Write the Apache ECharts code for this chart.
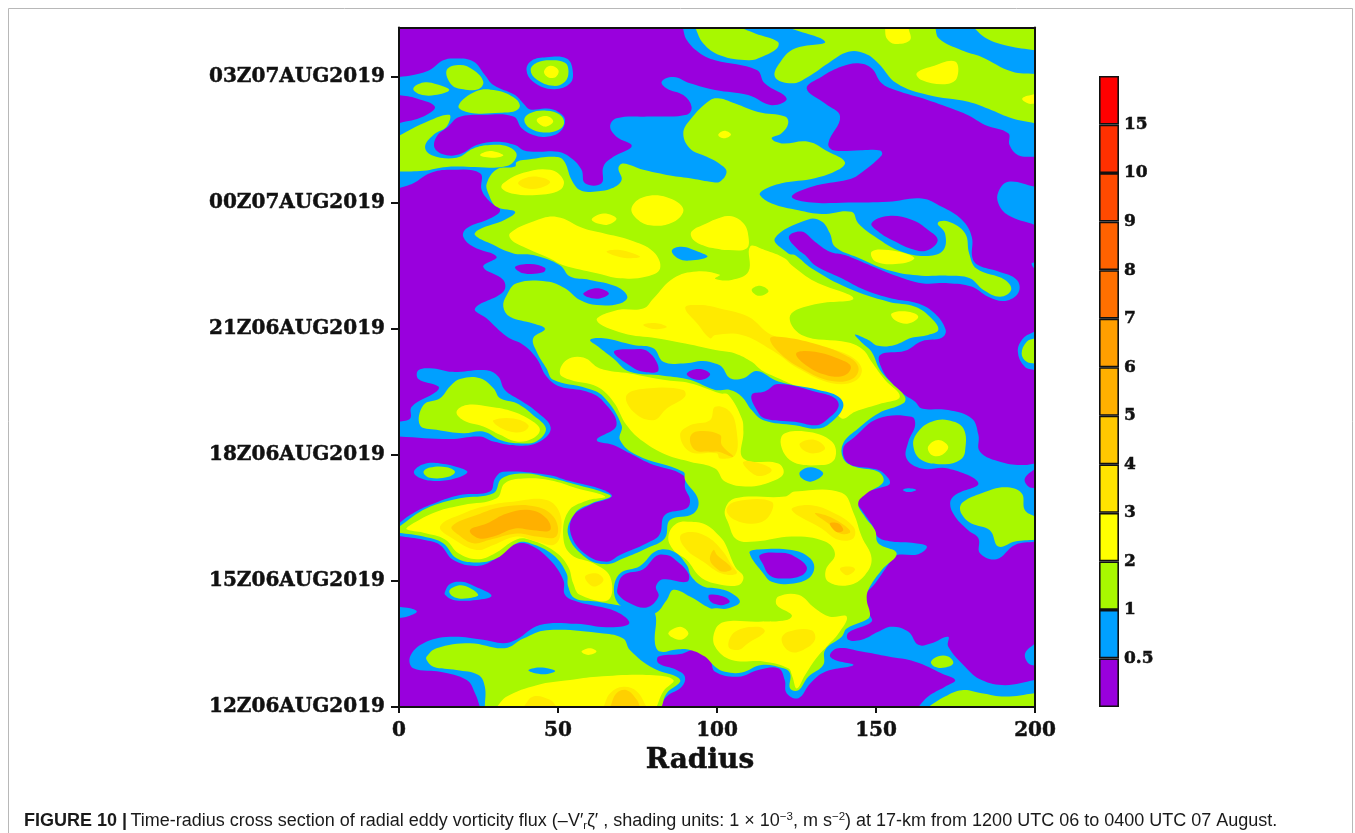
<!DOCTYPE html>
<html><head><meta charset="utf-8">
<script src="https://cdn.jsdelivr.net/npm/echarts@6/dist/echarts.min.js"></script>
<style>html,body{margin:0;padding:0;background:#fff}#c{width:1355px;height:833px}</style>
</head><body><div id="c"></div>
<script>
// Time axis: hours after 12Z 06 Aug; radius axis: km
const timeTicks=[0,3,6,9,12,15];
const timeLabels=['12Z06AUG2019','15Z06AUG2019','18Z06AUG2019','21Z06AUG2019','00Z07AUG2019','03Z07AUG2019'];
const radiusTicks=[0,50,100,150,200];
const timeMax=16.18;
// Shading key
const keyLabels=['0.5','1','2','3','4','5','6','7','8','9','10','15'];
const keyColors=['#9900dd','#00a0ff','#a8f800','#ffff00','#ffe400','#ffc800','#ffb000','#ff9f00','#ff7000','#ff6200','#ff4a00','#ff3000','#ff0000'];
const keySteps=[1,1,1,1,1,1,1,1,1,1,1,1,1];

// Contour regions, each a closed outline of [radius, hours]
const baseArea=[[[0,0],[200,0],[200,timeMax],[0,timeMax]]];
const purpleAreas=[
[[0,timeMax],[89.2,timeMax],[90.5,15.88],[94.7,15.56],[99.4,15.4],[112.5,15.17],[115,14.85],[121.9,14.49],[117.2,14.33],[109.8,14.57],[99.4,14.69],[91.5,14.85],[86.3,15],[82.6,14.89],[84.2,14.73],[89.4,14.57],[92,14.29],[90.5,14.1],[78.9,14.06],[68.4,14.02],[66.4,13.82],[68.4,13.58],[73.2,13.36],[67.4,13.1],[64.3,12.87],[63.7,12.47],[58.5,12.47],[57.4,12.79],[54.3,13.06],[50.1,13.22],[43.3,13.22],[39.1,13.26],[36.5,13.38],[30.7,13.46],[24.4,13.38],[19.7,13.18],[15,13.14],[11.3,13.3],[11.8,13.58],[15.5,13.82],[18.7,14.04],[26.5,14.1],[36,14.06],[38.6,13.78],[42.2,13.62],[46.4,13.58],[50.6,13.7],[52.2,13.98],[50.1,14.17],[46.4,14.25],[41.2,14.23],[39.1,14.37],[36.5,14.57],[29.7,14.81],[27,15.05],[23.4,15.37],[18.1,15.44],[13.9,15.4],[9.7,15.17],[4.5,15.05],[0,15]],
[[0,14.57],[5.6,14.49],[11.3,14.29],[7.7,14.06],[0,13.9]],
[[0,12.35],[4.5,12.47],[9.7,12.71],[16,12.79],[25.5,12.71],[26,12.31],[28.6,12.03],[31.8,11.83],[28.6,11.63],[21.3,11.4],[20.2,11.2],[23.4,10.96],[30.7,10.72],[26.5,10.48],[32.8,10.17],[32.8,9.89],[23.9,9.49],[27.6,9.25],[33.9,8.82],[39.1,8.62],[43.3,8.3],[46.4,7.87],[50.6,7.63],[59,7.51],[64.3,7.27],[68.4,6.71],[62.2,6.36],[67.4,6.24],[72.6,6.04],[78.9,5.8],[89.4,5.52],[90,5.2],[91.5,4.93],[90.5,4.73],[83.6,4.57],[81.9,4.1],[77.9,3.9],[69.5,3.62],[65.3,3.46],[59,3.62],[54.3,4.06],[54.6,4.53],[60,4.81],[66.9,5.01],[64.3,5.17],[52.7,5.4],[47.5,5.52],[32.8,5.6],[30.2,5.44],[28.6,5.13],[19.2,5.05],[9.7,4.81],[3.5,4.57],[0,4.37]],
[[0,4.07],[7.7,3.98],[12.9,3.86],[17.1,3.5],[24.4,3.36],[29.7,3.5],[36,3.86],[41.2,3.86],[47.5,3.5],[51.7,3.02],[52.2,2.67],[55.9,2.51],[68.4,2.27],[72.4,1.99],[65.3,1.9],[55.9,1.98],[44.3,1.95],[37,1.61],[32.8,1.52],[26.5,1.6],[16,1.67],[7.7,1.52],[3.5,1.2],[4.5,0.92],[12.9,0.84],[21.3,0.64],[23.9,0.33],[25.5,0],[0,0]],
[[82,0],[84.2,0.25],[88.9,0.48],[89.9,0.72],[87.3,0.88],[81.6,1.04],[81.6,1.2],[88.4,1.26],[93.6,1.36],[97.8,1.12],[99.4,0.84],[106.7,0.72],[113,0.88],[119.3,0.92],[121.3,0.64],[121.9,0.33],[125.6,0.21],[129.3,0.56],[134,0.84],[142.9,1],[137.1,1.12],[135.5,1.24],[138.1,1.4],[145.5,1.32],[153.9,1.2],[162.3,1.08],[170.7,0.8],[174.9,0.64],[171.7,0.48],[166.4,0.25],[163.3,0]],
[[128.2,14.73],[132.9,15.01],[139.2,15.25],[144.4,15.33],[148.6,15.21],[151.8,14.85],[156,14.69],[166.4,14.45],[172.7,14.28],[179,14.09],[184.3,13.86],[191.6,13.66],[192,13.38],[194.7,13.14],[200,13.1],[200,5.8],[196.3,5.76],[189.5,5.83],[182.7,6.08],[182.2,6.48],[180.1,6.87],[172.7,7.07],[164.4,7.11],[162.3,7.27],[159.1,7.43],[155,7.71],[151.8,8.06],[151.3,8.38],[159.1,8.48],[164.4,8.71],[170.7,8.79],[171.9,8.98],[168.5,9.37],[163.3,9.61],[154.9,9.73],[146.5,9.93],[139.2,10.21],[130.8,10.52],[127.7,10.76],[125.6,10.88],[122.6,11.2],[126.6,11.32],[130.8,11.08],[135.5,10.84],[140.2,10.76],[148.6,10.5],[157,10.25],[164.4,10.09],[172.7,10.09],[180,10.01],[185.3,9.77],[190.6,9.67],[194.8,9.87],[194.3,10.17],[188.5,10.37],[182.2,10.52],[180.3,10.7],[180.1,11.2],[177,11.6],[170.7,11.91],[164.4,12.11],[153.9,12.03],[141.3,12.01],[129.8,12.01],[123.5,12.15],[129.8,12.39],[141.3,12.56],[144.4,12.67],[151.8,13.14],[151.3,13.25],[145.5,13.26],[136.6,13.26],[135,13.42],[138.7,14.06],[134,14.37]],
[[139.7,6.16],[143,6.41],[150.7,6.87],[161.2,6.91],[162.3,6.71],[160.2,6.32],[159.6,5.92],[164.4,5.68],[172.7,5.68],[182.2,5.33],[174.9,5.05],[173.3,4.85],[174.9,4.53],[179,4.21],[182.2,4.02],[182.7,3.66],[187.9,3.52],[193.7,3.86],[200,3.94],[200,0.64],[190.6,0.52],[183.2,0.64],[178,0.96],[172.7,1.44],[172.7,1.67],[167.5,1.52],[163.3,1.48],[160.2,1.79],[154.9,1.91],[150.7,1.79],[145.5,1.6],[141.3,1.6],[141.3,1.77],[148.6,2.03],[147.8,2.23],[146.5,2.63],[149.7,2.94],[154.9,3.5],[156.5,3.62],[163.3,3.64],[166,3.82],[162.3,3.9],[154.9,3.94],[150.7,4.04],[149.1,4.29],[145.5,4.69],[144.2,4.85],[146,5.09],[150.7,5.21],[154.4,5.33],[151.8,5.6],[148.6,5.68],[141.3,5.8]],
[[196.8,5.44],[200,5.68],[200,5.21],[197.9,5.25]],
[[36.5,10.48],[41.2,10.55],[45.9,10.46],[45.4,10.35],[39.1,10.33]],
[[58,9.85],[62.2,9.97],[66,9.85],[63.2,9.73],[59,9.77]]
];
const blueIslands=[
[[40.1,15.17],[41.7,15.39],[46.4,15.47],[52.7,15.44],[54.6,15.17],[53.8,14.85],[48.5,14.71],[42.2,14.89]],
[[191.6,12.51],[200,12.39],[200,11.48],[191.6,11.71],[188.5,11.99],[188.5,12.27]],
[[6.1,8.02],[10.8,8.06],[16.6,7.98],[27.6,8.02],[31.2,7.87],[33.3,7.55],[38,7.31],[43.3,7.03],[47.7,6.65],[44.3,6.32],[38,6.22],[29.7,6.32],[25.5,6.44],[16,6.38],[0,6.44],[0,6.79],[3.5,6.87],[4,7.15],[11.8,7.51],[12.4,7.63],[6.1,7.81]],
[[4.7,5.6],[7.7,5.78],[12.9,5.8],[19.7,5.68],[21.5,5.59],[18.1,5.45],[11.8,5.38],[6.6,5.45]],
[[0,2.39],[3.5,2.35],[5.6,2.27],[2.4,2.15],[0,2.12]],
[[14.5,2.75],[16,2.93],[19.7,2.98],[23.9,2.87],[29.1,2.65],[24.4,2.55],[17.1,2.55],[14.5,2.67]],
[[200,1.52],[196.9,1.28],[197.9,1.04],[200,0.98]],
[[158.5,5.17],[160.2,5.21],[162.6,5.17],[160.2,5.12]],
[[194.6,8.46],[196.3,8.78],[200,8.95],[200,8.02],[196.8,8.1]],
[[198.9,10.56],[200,10.59],[200,10.41]]
];
const greenAreas=[
[[41.4,15.17],[43.3,15.34],[47.5,15.4],[52.2,15.34],[53.3,15.13],[52.2,14.89],[48.5,14.79],[43.3,14.94]],
[[15,15.17],[19.2,15.29],[23.4,15.17],[26.5,14.89],[24.9,14.71],[20.2,14.71],[16.6,14.81]],
[[4.5,14.73],[7.7,14.87],[11.8,14.83],[15.8,14.69],[11.3,14.57],[6.6,14.59]],
[[18.7,14.31],[24.4,14.67],[30.7,14.68],[36,14.52],[38,14.33],[36.5,14.19],[31.8,14.15],[22.3,14.15]],
[[39.4,13.98],[41.2,14.14],[46.4,14.2],[50.6,14.1],[51.9,13.9],[50.1,13.74],[45.4,13.68],[41.2,13.78]],
[[0,13.6],[7.7,13.9],[15.8,14.1],[15,13.82],[10.8,13.62],[8.2,13.34],[10.3,13.14],[18.1,13.08],[23.4,13.3],[28.6,13.38],[34.4,13.34],[37,13.14],[33.9,12.88],[23.4,12.86],[15,12.86],[7.7,12.77],[0,12.75]],
[[93.1,timeMax],[95.7,15.8],[100.9,15.52],[109.9,15.4],[114,15.48],[118.8,15.68],[119.1,15.84],[112,16.04],[107.2,timeMax]],
[[122.4,timeMax],[168.6,timeMax],[169.8,15.92],[176.9,15.64],[183.2,15.48],[192.7,15.13],[200,15.07],[200,13.9],[192.7,14.02],[186.4,14.21],[179,14.41],[166.4,14.57],[156.5,14.85],[150.7,15.33],[146.5,15.56],[141.3,15.6],[135,15.33],[128.7,15.01],[123.5,14.85],[118.2,15.01],[120.3,15.4],[124.5,15.68],[134,15.84]],
[[180.6,timeMax],[200,timeMax],[200,15.64],[191.6,15.74],[184.8,15.92]],
[[30.7,12.8],[36.5,12.87],[37,12.98],[41.2,13.04],[48.5,13.1],[51.7,13.02],[54.3,12.55],[56.9,12.31],[61.1,12.27],[66.9,12.35],[70,12.55],[69,12.83],[70.5,12.94],[76.8,12.79],[84.2,12.67],[91.5,12.59],[97.8,12.51],[100.9,12.51],[103,12.75],[100.9,12.93],[96.8,13.1],[91.5,13.3],[89.4,13.66],[91.5,13.98],[97.8,14.45],[100.9,14.49],[105.7,14.37],[112.9,14.17],[121.4,14.06],[122.4,13.9],[120.3,13.66],[117.2,13.54],[120.3,13.42],[128.7,13.46],[135,13.22],[140.2,12.98],[138.1,12.79],[130.8,12.59],[120.3,12.47],[114.6,12.31],[113.5,12.19],[117.2,11.99],[125.6,11.83],[132.9,11.74],[142.3,11.79],[144.4,11.52],[149.7,11.2],[158.1,10.84],[166.4,10.74],[171.2,10.88],[171.7,11.28],[169.4,11.52],[172.7,11.56],[178,11.28],[179.3,10.8],[181.6,10.44],[190.6,10.17],[192.5,9.93],[189,9.77],[183.8,9.93],[179.5,10.21],[172.7,10.27],[164.3,10.27],[154.9,10.38],[144.4,10.7],[137.1,10.96],[135.5,11.28],[132.9,11.56],[128.7,11.61],[118.2,11.16],[122.4,10.8],[124.5,10.76],[129.8,10.44],[141.3,9.97],[153.9,9.65],[162.3,9.53],[167.5,9.25],[169.6,8.98],[166.4,8.86],[161.2,8.79],[155.9,8.62],[150.7,8.6],[147.6,8.74],[143.4,8.87],[145.5,8.68],[148.6,8.46],[151.3,8.02],[155,7.71],[159.1,7.39],[158.6,7.23],[150.7,6.99],[144.4,6.63],[139.7,6.28],[139.7,5.92],[143.4,5.72],[150.7,5.6],[152.3,5.36],[147.1,5.09],[144.4,4.85],[146.5,4.53],[149.7,4.21],[150.7,3.9],[156.5,3.66],[151.8,3.26],[147.6,2.79],[147.1,2.55],[148.1,2.23],[147.6,2.11],[140.8,1.87],[139.2,1.67],[134,1.36],[133.4,1],[128.7,0.72],[125.6,0.4],[123,0.44],[123,0.8],[120.9,0.92],[114,1],[107.8,0.82],[102.5,0.84],[99.4,0.96],[96.2,1.2],[91.5,1.36],[87.3,1.37],[82.1,1.32],[80.5,1.52],[80.5,2.23],[76.8,2.35],[68.4,2.43],[62.2,2.51],[55.3,2.59],[53.2,2.87],[52.7,3.18],[48.5,3.62],[41.2,3.9],[37,3.9],[30.7,3.54],[24.4,3.44],[18.1,3.54],[13.9,3.9],[7.7,4.06],[0,4.15],[0,4.29],[8.7,4.73],[19.2,4.97],[29.7,5.09],[32.3,5.44],[39.1,5.56],[47.5,5.46],[55.9,5.29],[64.3,5.11],[66.6,5.01],[60.6,4.85],[55.3,4.61],[53.2,4.1],[59,3.54],[65.3,3.4],[70.6,3.54],[77.9,3.78],[83.6,4.02],[85.2,4.45],[92.6,4.61],[94.1,4.93],[90,5.4],[89.4,5.6],[74.7,6],[69.5,6.36],[70,6.71],[64.3,7.39],[59,7.59],[48.5,7.79],[46.4,8.06],[43.3,8.46],[42.2,8.78],[45.9,9],[42.2,9.13],[34.9,9.29],[32.8,9.53],[33.9,9.81],[37,10.09],[46.4,10.13],[52.2,9.97],[56.9,9.69],[62.2,9.57],[69.5,9.61],[71.8,9.77],[68.4,10.01],[60,10.17],[53.8,10.25],[50.6,10.52],[42.2,10.76],[36,10.8],[28.6,11.04],[23.9,11.24],[24.9,11.36],[33.3,11.6],[36.5,11.79],[30.7,11.91],[28.1,12.23],[27.6,12.47]],
[[8.7,1.2],[11.8,1.4],[22.3,1.52],[33.3,1.4],[39.1,1.63],[46.4,1.83],[64.3,1.75],[70.5,1.63],[72.6,1.36],[80,0.92],[87.3,0.72],[88.4,0.6],[84.2,0.33],[82.6,0],[27,0],[27,0.48],[25,0.76],[18.1,0.88],[10.8,0.96],[8.7,1.12]],
[[7.7,7.19],[12.9,7.35],[16,7.63],[19.2,7.81],[25.5,7.83],[29.7,7.59],[31.8,7.35],[37,7.23],[42.2,6.95],[46.2,6.63],[43.3,6.33],[37.5,6.28],[31.8,6.36],[26.5,6.56],[20.2,6.52],[11.8,6.6],[6.6,6.71]],
[[7.7,5.59],[9.7,5.7],[15,5.71],[17.6,5.6],[15.5,5.48],[9.7,5.46]],
[[15.8,2.75],[17.6,2.87],[20.8,2.88],[24.9,2.67],[21.8,2.59],[17.6,2.61]],
[[161.7,6.24],[163.3,6.56],[167.5,6.79],[172.7,6.83],[177.5,6.63],[178,6.08],[176.4,5.88],[171.7,5.78],[164.3,5.88]],
[[176.4,4.73],[177.5,4.89],[183.2,5.09],[190.6,5.23],[195.8,5.09],[196.8,4.69],[200,4.53],[200,3.98],[193.7,3.94],[188.5,3.82],[185.8,4.21],[180,4.37],[177.5,4.53]],
[[167.3,1.08],[169.6,1.21],[172.7,1.2],[174.3,1.04],[171.7,0.94],[168.5,0.96]],
[[166.4,0],[171.7,0.25],[177,0.4],[183.2,0.33],[190.6,0.25],[200,0.33],[200,0]],
[[195.8,8.42],[197.4,8.7],[200,8.78],[200,8.18],[197.4,8.22]]
];
const yellowAreas=[
[[45.6,15.13],[47.5,15.27],[50.1,15.17],[49.4,15.01],[47,14.99]],
[[43.3,13.98],[46.4,14.07],[48.5,13.94],[45.9,13.82]],
[[25.5,13.14],[28.6,13.24],[32.8,13.14],[29.7,13.08]],
[[152.8,timeMax],[160.2,timeMax],[160.7,15.88],[156,15.79],[153.4,15.92]],
[[162.8,15.09],[167.5,15.25],[174.9,15.37],[175.4,14.97],[171.7,14.83],[164.3,14.93]],
[[196,14.49],[200,14.6],[200,14.37],[197.9,14.37]],
[[32.8,12.47],[39.1,12.72],[47.5,12.79],[51.7,12.55],[50.6,12.31],[43.3,12.19],[35.4,12.23],[32.3,12.35]],
[[73.2,11.9],[76.8,12.14],[84.2,12.14],[89.4,11.86],[86.3,11.55],[78.9,11.47],[74.2,11.67]],
[[60.6,11.6],[64.3,11.75],[68.4,11.63],[65.3,11.48]],
[[34.9,11.28],[42.2,11.56],[49.6,11.67],[58,11.4],[64.3,11.28],[72.6,11.12],[80,10.84],[82.1,10.44],[77.9,10.25],[69.5,10.21],[62.2,10.33],[51.7,10.52],[47.5,10.68],[39.1,10.96],[35.4,11.12]],
[[92,11.32],[96.8,11.52],[99.4,11.61],[104,11.69],[108.3,11.52],[109.9,11.2],[109.3,10.92],[103.6,10.88],[99.4,10.92],[96.8,10.96],[92.6,11.12]],
[[100.4,13.62],[102.3,13.72],[104.4,13.63],[102.3,13.54]],
[[148.6,10.84],[153.9,10.88],[162,10.7],[158,10.56],[150,10.6]],
[[80,9.73],[86.3,10.21],[93.6,10.37],[100.9,10.29],[99.4,10.2],[104.6,10.17],[109.9,10.37],[110.4,10.96],[115,10.88],[121.4,10.68],[123.5,10.52],[130.8,10.13],[142.9,9.73],[130.8,9.59],[123,9.32],[126.6,8.86],[141.3,8.68],[146,8.5],[148.6,8.22],[152.8,7.79],[157.5,7.39],[151.8,7.23],[143.4,7.03],[139.2,6.87],[135,7.33],[125.6,7.62],[119.3,7.83],[114,8.02],[110.9,8.22],[105.7,8.42],[100.9,8.48],[91.5,8.63],[81,8.78],[70.5,8.9],[62.2,9.21],[68.4,9.45],[76.8,9.49]],
[[50.6,7.94],[52.7,8.26],[58,8.32],[63.2,8.06],[72.6,7.94],[83.1,7.79],[91.5,7.71],[100.9,7.47],[103.6,7.43],[107.8,6.87],[108.3,6.56],[108.3,5.92],[119.3,5.8],[120.9,5.56],[117.2,5.37],[109.9,5.25],[102.5,5.37],[99.4,5.68],[91.5,5.84],[84.2,6],[76.8,6.32],[71.6,6.71],[67.4,7.27],[62.2,7.63],[53.8,7.79]],
[[120.3,6.44],[127.7,6.56],[136.1,6.32],[137.1,5.92],[132.9,5.76],[122.9,5.88]],
[[102.5,4.69],[105.7,4.97],[121.4,5.01],[124.5,5.13],[139.2,5.1],[143,4.61],[145.5,4.06],[148.6,3.54],[146.5,3.14],[141.3,2.9],[135,2.98],[134.2,3.26],[137.1,3.64],[134,3.94],[123.5,4.06],[112,3.94],[106.2,3.99],[103.6,4.37]],
[[99.4,1.83],[102.5,2.03],[113,2.03],[121.9,2.07],[123.5,2.19],[118.8,2.43],[119.3,2.63],[125.6,2.67],[130.8,2.35],[135.5,2.15],[140.8,2.15],[138.2,1.75],[134.5,1.44],[130.8,1.12],[127.7,0.76],[125.1,0.44],[123.7,0.72],[122.4,0.92],[115,1.08],[104.6,1.12],[99.4,1.44]],
[[84.7,4.06],[87.3,4.37],[92,4.41],[96.8,4.33],[100.9,4.06],[102.5,3.9],[105.7,3.34],[108.3,3.1],[106.7,2.9],[99.4,2.94],[94.7,3.1],[90.5,3.5],[86.3,3.74]],
[[3.5,4.33],[11.8,4.65],[20.2,4.81],[30.7,4.97],[33.3,5.33],[39.1,5.44],[47.5,5.4],[55.9,5.21],[64.8,5.01],[59,4.91],[53.2,4.65],[51.7,4.02],[54.3,3.62],[61.1,3.42],[66.4,3.1],[65.8,2.55],[56.9,2.67],[54.8,2.94],[53.2,3.34],[49,3.7],[41.2,3.98],[37,3.99],[29.7,3.64],[24.4,3.52],[18.7,3.66],[14.5,3.99],[7.7,4.15],[2.4,4.23]],
[[30.7,0],[33.9,0.25],[43.3,0.52],[53.8,0.64],[62.2,0.72],[78.9,0.76],[86.3,0.64],[83.1,0.37],[81,0]],
[[57.4,1.32],[60,1.4],[62.1,1.32],[59.5,1.24]],
[[84.7,1.75],[88.4,1.91],[91,1.75],[88.4,1.6]],
[[166.4,6.2],[169.6,6.36],[172.7,6.2],[170.7,6],[167.5,6]],
[[154.9,9.37],[160.2,9.41],[163.3,9.29],[160.2,9.13],[156,9.21]],
[[18.1,7.03],[21.3,7.19],[28.6,7.15],[36,7.03],[42.2,6.79],[44.3,6.6],[42.2,6.4],[37,6.32],[31.8,6.48],[26.5,6.68],[20.2,6.83]]
];
const greenPatches=[
[[110.9,9.93],[113.5,10.03],[116.2,9.9],[113.2,9.79]]
];
const goldAreas=[
[[37.5,12.49],[42.2,12.63],[47.5,12.51],[44.3,12.36],[39.6,12.36]],
[[65.3,10.84],[69.5,10.88],[75.8,10.72],[70.5,10.7]],
[[90,9.51],[94.7,9.57],[100.9,9.49],[109.9,9.29],[117.2,8.86],[130.8,8.62],[141.3,8.38],[145.5,8.06],[143.4,7.76],[136.1,7.71],[125.6,8.06],[117.2,8.5],[107.8,8.86],[99.4,8.86],[97.8,8.78],[94.1,9.1]],
[[76.8,9.1],[81,9.14],[84.2,9.05],[80,9]],
[[71.6,7.43],[78.9,7.59],[89.4,7.55],[89.9,7.39],[84.2,7.11],[80,6.83],[73.7,7.03]],
[[88.4,6.48],[91.5,6.71],[97.8,6.83],[99.4,7.15],[104.1,7.03],[106.2,6.56],[105.7,6],[100.9,5.92],[99.9,6.04],[91.5,6.08]],
[[126.1,6.28],[130.8,6.36],[134,6.16],[130.8,6.04],[127.1,6.12]],
[[108.3,5.84],[113.5,5.8],[117.2,5.64],[113.5,5.5],[109.9,5.64]],
[[103,4.69],[105.7,4.89],[117.2,4.89],[116.2,4.53],[112,4.37],[105.7,4.45]],
[[123.5,4.69],[128.7,4.81],[136,4.65],[142.9,4.29],[142.9,4.02],[138.2,3.98],[132.9,4.25]],
[[138.7,3.3],[142.3,3.34],[143.4,3.26],[140.8,3.14]],
[[103.6,1.44],[105.7,1.79],[113,1.91],[115,1.79],[109.8,1.52],[106.7,1.36]],
[[120.3,1.6],[122.4,1.79],[129.7,1.83],[130.8,1.6],[127.1,1.36],[122.9,1.32]],
[[88.4,4.06],[91.5,4.17],[96.8,4.06],[101.5,3.74],[104.6,3.38],[106.2,3.18],[101.5,3.18],[95.7,3.46],[90.5,3.74]],
[[12.9,4.3],[20.2,4.61],[28.6,4.81],[35.9,4.89],[46.4,4.93],[50.6,4.61],[50.6,4.06],[48.5,3.86],[43.3,3.94],[37,4.06],[29.7,3.86],[24.4,3.74],[17.1,4]],
[[58.5,3.1],[62.2,3.18],[64.3,3.02],[61.1,2.87]],
[[39.1,0],[42.2,0.25],[47.5,0.17],[49.6,0]],
[[64.3,0],[66.4,0.33],[70.6,0.48],[74.8,0.37],[77.9,0]],
[[29.7,6.83],[36,6.87],[40.7,6.71],[39.1,6.56],[34.9,6.56],[30.7,6.71]]
];
const amberAreas=[
[[116.7,8.78],[120.3,8.81],[130.8,8.65],[140.2,8.38],[144.4,8.11],[142.9,7.83],[136.1,7.76],[126.6,8.06],[119.3,8.46]],
[[91.5,6.4],[93.6,6.56],[100.9,6.48],[101.5,6.24],[105.1,5.96],[100.4,6.08],[97.8,6.08],[93.1,6.12]],
[[130.8,4.61],[134,4.57],[139.2,4.37],[141.9,4.17],[138.7,4.13],[135,4.37]],
[[98.9,3.74],[100,3.62],[104.6,3.3],[102,3.22],[99.9,3.3],[97.8,3.5]],
[[16.6,4.3],[24.4,4.57],[32.8,4.77],[43.3,4.77],[49,4.49],[49.4,4.06],[43.3,4.06],[37,4.13],[28.6,3.98],[23.4,3.9],[18.7,4.1]],
[[66.4,0],[68.4,0.33],[71.6,0.4],[74.8,0.17],[75.8,0]]
];
const orangeAreas=[
[[124.9,8.42],[130.8,8.46],[139.2,8.26],[142.1,8.1],[140.2,7.9],[135,7.89],[128.7,8.1]],
[[135.5,4.37],[138.2,4.37],[139.7,4.21],[137.6,4.17]],
[[22.3,4.21],[27.6,4.37],[33.9,4.61],[41.2,4.69],[46.4,4.49],[47.5,4.21],[42.2,4.21],[36.5,4.25],[29.7,4.06],[25,4.02]]
];
const blueHoles=[
[[85.8,10.87],[88.9,10.96],[94.1,10.84],[97,10.72],[91.5,10.63],[87.8,10.68]],
[[60.1,8.74],[64.3,8.78],[73.7,8.62],[80,8.54],[83.1,8.22],[89.4,8.18],[95.7,8.24],[99.4,8.18],[101.5,8.1],[104.1,7.83],[108.3,7.83],[112.5,8],[119.3,7.75],[131.9,7.55],[138.2,7.39],[139.7,7.15],[136.1,6.79],[131.9,6.63],[124.5,6.71],[114.6,6.83],[110.9,7.07],[107.8,7.39],[104.1,7.55],[99.4,7.55],[91.5,7.79],[83.1,7.89],[72.6,7.98],[67.4,8.3],[62.7,8.58]],
[[110.2,3.67],[113,3.75],[123.5,3.74],[128.7,3.58],[130.6,3.34],[128.7,3.06],[122.4,2.93],[117.2,2.98],[115,3.14]],
[[126.1,5.6],[129.7,5.71],[133.4,5.56],[129.7,5.37],[126.6,5.45]],
[[67.6,2.75],[69.5,3.18],[75.8,3.36],[81,3.72],[86.3,3.7],[90.5,3.38],[92,3.1],[95.7,2.87],[99.4,2.83],[103.6,2.75],[107.2,2.51],[103.6,2.35],[99.4,2.35],[97.8,2.35],[91.5,2.63],[86.3,2.79],[84.2,2.55],[80.5,2.23],[76.8,2.3],[70,2.4]],
[[40.7,0.87],[44.3,0.94],[49.1,0.86],[45.4,0.78]]
];
const purpleHoles=[
[[148.6,11.52],[153.9,11.69],[161.2,11.6],[166.4,11.36],[169.4,11.12],[166.4,10.88],[162.3,10.88],[155,11.12],[150.7,11.32]],
[[67.6,8.46],[72.6,8.52],[78.4,8.46],[81.6,8.02],[76.8,7.98],[71.6,8.18]],
[[90.5,7.94],[94.1,8.05],[97.8,7.94],[96.2,7.81],[92.6,7.81]],
[[110.9,7.43],[115,7.51],[119.3,7.69],[131.9,7.49],[137.1,7.35],[138.2,7.15],[135,6.87],[131.3,6.71],[124.5,6.79],[115,6.87],[112.5,7.07]],
[[113.5,3.62],[120.3,3.67],[124.5,3.58],[128.2,3.34],[126.8,3.14],[120.3,3.06],[116.5,3.14],[114.6,3.38]],
[[68.7,2.83],[70.5,3.14],[76.8,3.28],[81,3.6],[84.2,3.62],[86.3,3.54],[91,3.18],[90.5,2.98],[83.1,3.04],[80.8,2.87],[81.6,2.63],[77.9,2.37],[72.6,2.47],[69,2.67]],
[[97.6,2.67],[102,2.63],[104,2.51],[102,2.43],[99.4,2.45],[97.6,2.55]]
];

const PURPLE=keyColors[0],BLUE=keyColors[1],GREEN=keyColors[2],YELLOW=keyColors[3],GOLD='#ffea00',AMBER='#ffd000',ORANGE='#ffb000';
const layers=[
 [baseArea,BLUE],[purpleAreas,PURPLE],[blueIslands,BLUE],[greenAreas,GREEN],[yellowAreas,YELLOW],[greenPatches,GREEN],
 [goldAreas,GOLD],[amberAreas,AMBER],[orangeAreas,ORANGE],[blueHoles,BLUE],[purpleHoles,PURPLE]
];
const FONT='"DejaVu Serif"';
const HEAVY={fontFamily:FONT,fontWeight:'bold',color:'#111',textBorderColor:'#111',textBorderWidth:0.5};
function contourSeries(areas,color,i){
  return {type:'custom',coordinateSystem:'cartesian2d',xAxisIndex:0,yAxisIndex:0,silent:true,clip:true,z:2+i*0.01,
    data:areas.map((a,k)=>[k]),
    renderItem(params,api){
      const outline=areas[params.dataIndex],pts=[];
      outline.forEach(p=>{
        const q=api.coord(p);pts.push(q);
        if(p[0]<=0||p[0]>=200||p[1]<=0||p[1]>=timeMax)pts.push(q);
      });
      return {type:'polygon',shape:{points:pts,smooth:0.4},style:{fill:color}};
    }};
}
const series=layers.map((l,i)=>contourSeries(l[0],l[1],i));
keySteps.forEach((v,i)=>series.push({type:'bar',xAxisIndex:2,yAxisIndex:2,stack:'key',barWidth:'100%',silent:true,data:[v],
  itemStyle:{color:keyColors[i],borderColor:'#111',borderWidth:1.6}}));

const chart=echarts.init(document.getElementById('c'),null,{renderer:'canvas'});
chart.setOption({
  animation:false,backgroundColor:'#fff',
  grid:[{left:399,top:27.5,width:636,height:679.5},{left:1099,top:76,width:20,height:631}],
  xAxis:[
   {type:'value',gridIndex:0,min:0,max:200,interval:50,z:10,name:'Radius',nameLocation:'middle',nameGap:40,
    nameTextStyle:{...HEAVY,fontSize:28,padding:[0,34,0,0]},
    axisLine:{lineStyle:{color:'#111',width:2}},axisTick:{length:6,lineStyle:{color:'#111',width:2}},splitLine:{show:false},
    axisLabel:{...HEAVY,margin:14,fontSize:20,customValues:radiusTicks}},
   {type:'value',gridIndex:0,position:'top',min:0,max:200,z:10,axisLine:{onZero:false,lineStyle:{color:'#111',width:2}},axisTick:{show:false},axisLabel:{show:false},splitLine:{show:false}},
   {type:'category',gridIndex:1,data:['key'],show:false}
  ],
  yAxis:[
   {type:'value',gridIndex:0,min:0,max:timeMax,z:10,
    axisLine:{lineStyle:{color:'#111',width:2}},axisTick:{length:8,lineStyle:{color:'#111',width:2},customValues:timeTicks},splitLine:{show:false},
    axisLabel:{...HEAVY,margin:14,fontSize:20,padding:[7,0,0,0],customValues:timeTicks,
      formatter:v=>timeLabels[timeTicks.indexOf(v)]||''}},
   {type:'value',gridIndex:0,position:'right',min:0,max:timeMax,z:10,axisLine:{onZero:false,lineStyle:{color:'#111',width:2}},axisTick:{show:false},axisLabel:{show:false},splitLine:{show:false}},
   {type:'value',gridIndex:1,position:'right',min:0,max:keySteps.length,z:10,
    axisLine:{show:false},axisTick:{show:false},splitLine:{show:false},
    axisLabel:{...HEAVY,margin:5,fontSize:17,padding:[4,0,0,0],customValues:keyLabels.map((_,i)=>i+1),
      formatter:v=>keyLabels[v-1]||''}}
  ],
  series,
  graphic:[
   {type:'rect',z:-1,silent:true,shape:{x:8.5,y:8.5,width:1344,height:900},style:{fill:'none',stroke:'#b8b8b8',lineWidth:1}},
   {type:'text',left:24,top:811,silent:true,z:20,style:{
     text:'{b|FIGURE 10 |} {n|Time-radius cross section of radial eddy vorticity flux (–V′}{s|r}{n|ζ′ , shading units: 1 × 10}{u|−3}{n|, m s}{u|−2}{n|) at 17-km from 1200 UTC 06 to 0400 UTC 07 August.}',
     rich:{
      b:{fontFamily:'"Liberation Sans"',fontWeight:'bold',fontSize:18,fill:'#1a1a1a',lineHeight:20},
      n:{fontFamily:'"Liberation Sans"',fontSize:18,fill:'#1a1a1a',lineHeight:20},
      s:{fontFamily:'"Liberation Sans"',fontSize:11,fill:'#1a1a1a',lineHeight:20,verticalAlign:'bottom'},
      u:{fontFamily:'"Liberation Sans"',fontSize:11.5,fill:'#1a1a1a',lineHeight:20,verticalAlign:'top'}
     }}}
  ]
});
</script></body></html>
